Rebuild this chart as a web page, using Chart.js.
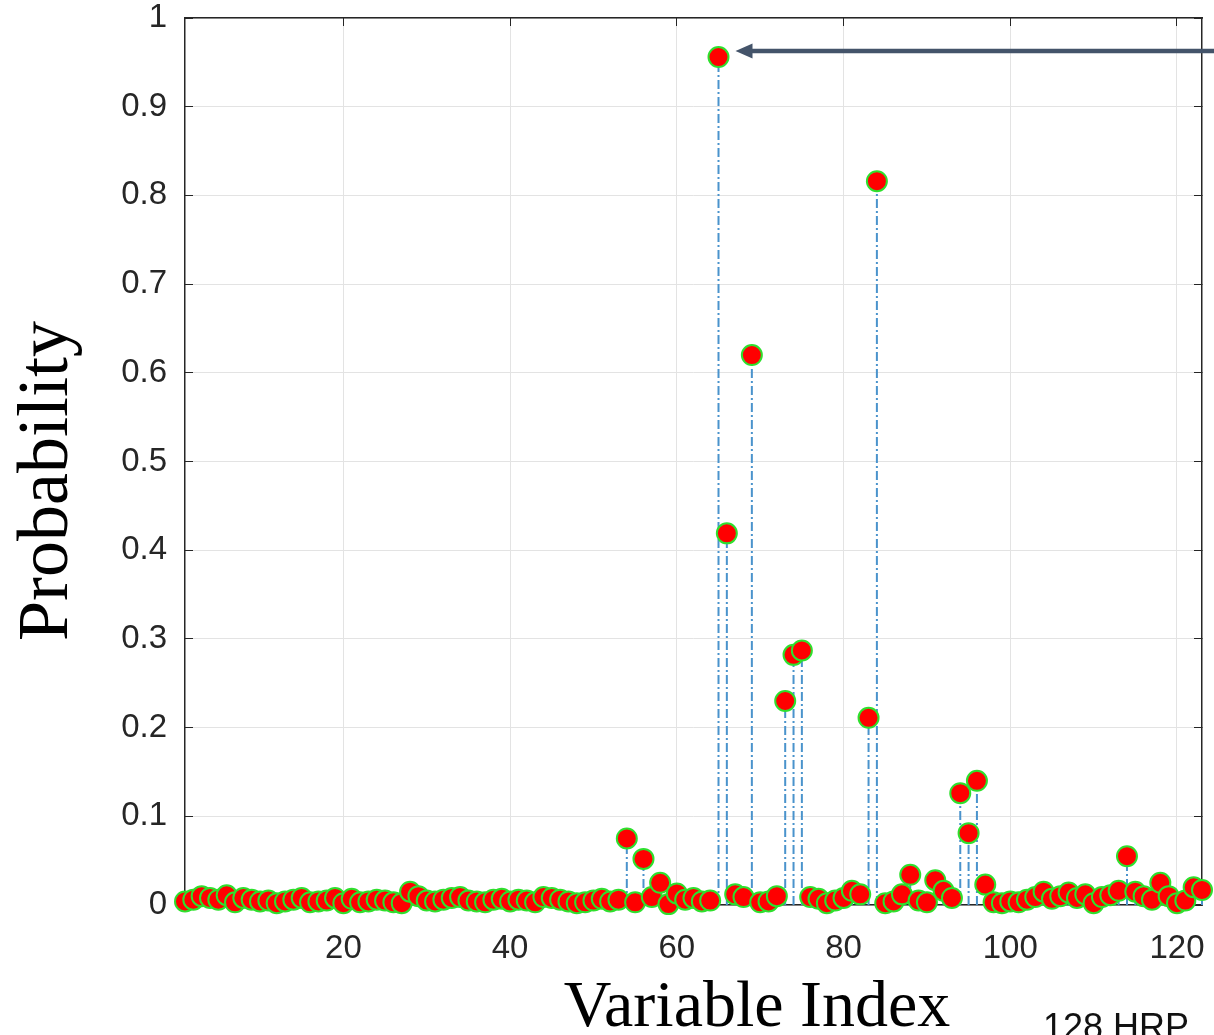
<!DOCTYPE html>
<html>
<head>
<meta charset="utf-8">
<script src="https://cdn.jsdelivr.net/npm/chart.js@4"></script>
<style>
  html, body { margin: 0; padding: 0; background: #fff; overflow: hidden; }
</style>
</head>
<body>
<canvas id="stemChart" width="1214" height="1035"></canvas>
<script>
// ================= DATA =================
// probability per variable index 1..123
const probs = [
  0.004, 0.006, 0.010, 0.008, 0.006, 0.011, 0.003, 0.008, 0.006, 0.004,
  0.005, 0.002, 0.004, 0.006, 0.008, 0.003, 0.004, 0.005, 0.008, 0.002,
  0.007, 0.003, 0.004, 0.006, 0.005, 0.003, 0.002, 0.015, 0.010, 0.005,
  0.004, 0.006, 0.008, 0.009, 0.005, 0.004, 0.003, 0.006, 0.007, 0.004,
  0.006, 0.005, 0.003, 0.009, 0.008, 0.006, 0.004, 0.002, 0.003, 0.005,
  0.007, 0.004, 0.006, 0.075, 0.003, 0.052, 0.009, 0.025, 0.001, 0.013,
  0.006, 0.008, 0.004, 0.005, 0.956, 0.419, 0.012, 0.009, 0.620, 0.003,
  0.004, 0.010, 0.230, 0.282, 0.287, 0.009, 0.007, 0.002, 0.005, 0.008,
  0.016, 0.012, 0.211, 0.816, 0.002, 0.004, 0.012, 0.034, 0.005, 0.003,
  0.028, 0.016, 0.008, 0.126, 0.081, 0.140, 0.023, 0.003, 0.002, 0.004,
  0.003, 0.006, 0.009, 0.015, 0.007, 0.010, 0.014, 0.008, 0.012, 0.002,
  0.009, 0.011, 0.016, 0.055, 0.015, 0.010, 0.006, 0.025, 0.010, 0.002,
  0.005, 0.020, 0.017
]
const xTicks = [20, 40, 60, 80, 100, 120]
const yTicks = [0, 0.1, 0.2, 0.3, 0.4, 0.5, 0.6, 0.7, 0.8, 0.9, 1]
const xRange = [1, 123]
const xLabel = 'Variable Index'
const yLabel = 'Probability'
const noteText = '128 HRP'
const arrowIndex = 65

// ================= BUILD =================
const markerData = probs.map((p, i) => ({ x: i + 1, y: p }))
const stemData = []
probs.forEach((p, i) => {
  stemData.push({ x: i + 1, y: 0 }, { x: i + 1, y: p }, { x: i + 1, y: null })
})

const axisColor = '#262626'
const gridColor = '#e3e3e3'
const tickFont = { family: '"Liberation Sans", Arial', size: 33 }

const setTicks = list => scale => { scale.ticks = list.map(v => ({ value: v })) }

// fixed box size, no extra label padding
const fixBox = (w, h) => s => {
  if (w !== null) s.width = w
  if (h !== null) s.height = h
  s.paddingLeft = s.paddingRight = s.paddingTop = s.paddingBottom = 0
}

// titles, arrow and side note
const extras = {
  id: 'extras',
  afterDraw(chart) {
    const ctx = chart.ctx
    const { x, y } = chart.scales

    ctx.save()
    ctx.fillStyle = '#000'
    ctx.textAlign = 'center'
    ctx.textBaseline = 'alphabetic'
    ctx.font = '66px "Liberation Serif", "Times New Roman", serif'
    ctx.fillText(xLabel, 757, 1026)
    ctx.translate(67, 481)
    ctx.rotate(-Math.PI / 2)
    ctx.font = '72px "Liberation Serif", "Times New Roman", serif'
    ctx.fillText(yLabel, 0, 0)
    ctx.restore()

    // arrow pointing at the top point
    const tipX = x.getPixelForValue(arrowIndex) + 17
    const tipY = y.getPixelForValue(probs[arrowIndex - 1]) - 6
    ctx.save()
    ctx.strokeStyle = '#44546a'
    ctx.fillStyle = '#44546a'
    ctx.lineWidth = 4.5
    ctx.beginPath()
    ctx.moveTo(chart.width + 5, tipY)
    ctx.lineTo(tipX + 12, tipY)
    ctx.stroke()
    ctx.beginPath()
    ctx.moveTo(tipX, tipY)
    ctx.lineTo(tipX + 17, tipY - 7.5)
    ctx.lineTo(tipX + 17, tipY + 7.5)
    ctx.closePath()
    ctx.fill()

    ctx.fillStyle = '#111'
    ctx.textAlign = 'left'
    ctx.font = '36px "Liberation Sans", Arial'
    ctx.fillText(noteText, 1043, 1039)
    ctx.restore()
  }
}

// ================= CHART =================
new Chart(document.getElementById('stemChart'), {
  type: 'line',
  data: {
    datasets: [
      {
        label: 'markers',
        data: markerData,
        showLine: false,
        clip: false,
        pointRadius: 10,
        pointHoverRadius: 10,
        pointBackgroundColor: '#ff0000',
        pointBorderColor: '#2ee02e',
        pointBorderWidth: 2,
        order: 0
      },
      {
        label: 'stems',
        data: stemData,
        clip: false,
        borderColor: '#4a93cc',
        borderWidth: 2,
        borderDash: [9, 3, 2, 3],
        pointRadius: 0,
        spanGaps: false,
        order: 1
      }
    ]
  },
  options: {
    responsive: false,
    animation: false,
    layout: { padding: 0 },
    plugins: { legend: { display: false }, tooltip: { enabled: false } },
    scales: {
      x: {
        type: 'linear',
        position: 'bottom',
        min: xRange[0],
        max: xRange[1],
        afterBuildTicks: setTicks(xTicks),
        afterFit: fixBox(null, 130),
        grid: { color: gridColor, tickColor: axisColor, tickLength: -8 },
        border: { color: axisColor, width: 1.5 },
        ticks: { font: tickFont, color: axisColor, padding: 32, maxRotation: 0 }
      },
      y: {
        type: 'linear',
        position: 'left',
        min: 0,
        max: 1,
        afterBuildTicks: setTicks(yTicks),
        afterFit: fixBox(185, null),
        grid: { color: gridColor, tickColor: axisColor, tickLength: -8 },
        border: { color: axisColor, width: 1.5 },
        ticks: { font: tickFont, color: axisColor, padding: 26, callback: v => String(v) }
      },
      xTop: {
        type: 'linear',
        position: 'top',
        min: xRange[0],
        max: xRange[1],
        afterBuildTicks: setTicks(xTicks),
        afterFit: fixBox(null, 18),
        grid: { drawOnChartArea: false, tickColor: axisColor, tickLength: -8 },
        border: { color: axisColor, width: 1.5 },
        ticks: { display: false }
      },
      yRight: {
        type: 'linear',
        position: 'right',
        min: 0,
        max: 1,
        afterBuildTicks: setTicks(yTicks),
        afterFit: fixBox(12, null),
        grid: { drawOnChartArea: false, tickColor: axisColor, tickLength: -8 },
        border: { color: axisColor, width: 1.5 },
        ticks: { display: false }
      }
    }
  },
  plugins: [extras]
})
</script>
</body>
</html>
